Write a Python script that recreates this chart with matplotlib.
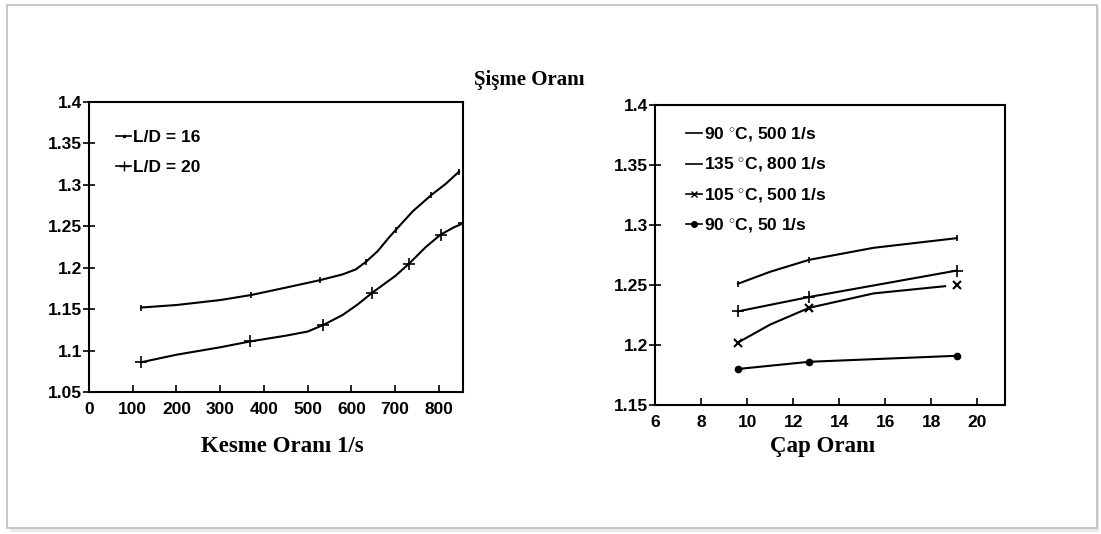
import numpy as np
import matplotlib.pyplot as plt
from matplotlib.patches import Rectangle

# left panel: swell ratio vs shear rate
ld16_x = [120, 370, 528, 633, 702, 783, 846]
ld16_y = [1.152, 1.167, 1.185, 1.207, 1.246, 1.288, 1.316]
ld16_curve_x = [120, 200, 300, 370, 450, 528, 580, 610, 633, 660, 685, 702, 740, 783, 815, 846]
ld16_curve_y = [1.152, 1.155, 1.161, 1.167, 1.176, 1.185, 1.192, 1.198, 1.207, 1.220, 1.236,
                1.246, 1.268, 1.288, 1.301, 1.316]

ld20_x = [120, 368, 536, 648, 732, 804, 857]
ld20_y = [1.086, 1.111, 1.131, 1.170, 1.205, 1.240, 1.254]
ld20_curve_x = [120, 200, 300, 368, 450, 500, 536, 580, 615, 648, 700, 732, 770, 804, 835, 857]
ld20_curve_y = [1.086, 1.095, 1.104, 1.111, 1.118, 1.123, 1.131, 1.143, 1.156, 1.170, 1.190,
                1.205, 1.225, 1.240, 1.249, 1.254]

# right panel: swell ratio vs diameter ratio
dia_x = [9.6, 12.7, 19.1]
s_90_500 = [1.251, 1.271, 1.289]
s_135_800 = [1.228, 1.240, 1.262]
s_105_500 = [1.202, 1.231, 1.250]
s_90_50 = [1.180, 1.186, 1.191]
# extra points
c_90_500_x = [9.6, 11.0, 12.7, 15.5, 19.1]
c_90_500_y = [1.251, 1.261, 1.271, 1.281, 1.289]
c_105_500_x = [9.6, 11.0, 12.7, 15.5, 18.6]
c_105_500_y = [1.202, 1.217, 1.231, 1.243, 1.249]

left_labels = ['L/D = 16', 'L/D = 20']
right_labels = ['90 $^{\\circ}$C, 500 1/s', '135 $^{\\circ}$C, 800 1/s',
                '105 $^{\\circ}$C, 500 1/s', '90 $^{\\circ}$C, 50 1/s']

plt.rcParams['font.family'] = ['Liberation Sans', 'DejaVu Sans']
plt.rcParams['font.weight'] = 'bold'
plt.rcParams['mathtext.fontset'] = 'custom'
plt.rcParams['mathtext.rm'] = 'Liberation Sans:bold'

fig = plt.figure(figsize=(11.01, 5.34), dpi=100)

# frame with soft shadow
fig.patches.append(Rectangle((0.009, 0.004), 0.989, 0.985, transform=fig.transFigure,
                             facecolor='#e8e8e8', edgecolor='none', zorder=-3))
fig.patches.append(Rectangle((0.0065, 0.011), 0.99, 0.979, transform=fig.transFigure,
                             facecolor='white', edgecolor='#bdbdbd', lw=1.2, zorder=-2))

ax1 = fig.add_axes([0.0808, 0.2659, 0.3397, 0.543])
ax2 = fig.add_axes([0.5949, 0.2416, 0.3179, 0.5618])

lw = 1.5
ax1.plot(ld16_curve_x, ld16_curve_y, color='k', lw=lw)
ax1.plot(ld16_x, ld16_y, ls='none', marker='|', ms=4, color='k', mew=1.2)
ax1.plot(ld20_curve_x, ld20_curve_y, color='k', lw=lw)
ax1.plot(ld20_x, ld20_y, ls='none', marker='+', ms=8, color='k', mew=1.2)
h1 = ax1.plot([], [], color='k', lw=1.2, marker='.', ms=3)[0]
h2 = ax1.plot([], [], color='k', lw=1.2, marker='+', ms=7)[0]
ax1.legend([h1, h2], left_labels, loc='upper left', frameon=False, fontsize=12.5,
           handlelength=0.9, handletextpad=0.1, labelspacing=0.85,
           bbox_to_anchor=(0.03, 0.958))

ax1.set_xlim(0, 855)
ax1.set_ylim(1.05, 1.4)
ax1.set_xticks(np.arange(0, 900, 100))
ax1.set_yticks([1.05, 1.1, 1.15, 1.2, 1.25, 1.3, 1.35, 1.4])
ax1.set_yticklabels(['1.05', '1.1', '1.15', '1.2', '1.25', '1.3', '1.35', '1.4'])

ax2.plot(c_90_500_x, c_90_500_y, color='k', lw=lw)
ax2.plot(dia_x, s_90_500, ls='none', color='k', marker='|', ms=4, mew=1.2)
ax2.plot(dia_x, s_135_800, color='k', lw=lw, marker='+', ms=8, mew=1.2)
ax2.plot(c_105_500_x, c_105_500_y, color='k', lw=lw)
ax2.plot(dia_x, s_105_500, ls='none', color='k', marker='x', ms=6, mew=1.5)
ax2.plot(dia_x, s_90_50, color='k', lw=lw, marker='o', ms=4.5)
hs = [ax2.plot([], [], color='k', lw=1.2, marker=m, ms=s)[0]
      for m, s in [('none', 1), ('none', 1), ('x', 5), ('o', 4)]]
ax2.legend(hs, right_labels, loc='upper left', frameon=False, fontsize=12.5,
           handlelength=0.9, handletextpad=0.1, labelspacing=0.68,
           bbox_to_anchor=(0.045, 0.985))

ax2.set_xlim(6, 21.2)
ax2.set_ylim(1.15, 1.4)
ax2.set_xticks(np.arange(6, 22, 2))
ax2.set_yticks([1.15, 1.2, 1.25, 1.3, 1.35, 1.4])
ax2.set_yticklabels(['1.15', '1.2', '1.25', '1.3', '1.35', '1.4'])

for ax in (ax1, ax2):
    for sp in ax.spines.values():
        sp.set_linewidth(1.5)
    ax.tick_params(axis='y', direction='inout', length=8, width=1.2, labelsize=12.5, pad=1)
    ax.tick_params(axis='x', direction='in', length=5, width=1.2, labelsize=12.5, pad=7)

serif = ['Liberation Serif', 'DejaVu Serif']
fig.text(0.481, 0.850, 'Şişme Oranı', ha='center', va='center', fontsize=15,
         fontweight='bold', family=serif)
fig.text(0.256, 0.163, 'Kesme Oranı 1/s', ha='center', va='center', fontsize=16.5,
         fontweight='bold', family=serif)
fig.text(0.747, 0.163, 'Çap Oranı', ha='center', va='center', fontsize=16.5,
         fontweight='bold', family=serif)

fig.savefig('out.png', dpi=100)
